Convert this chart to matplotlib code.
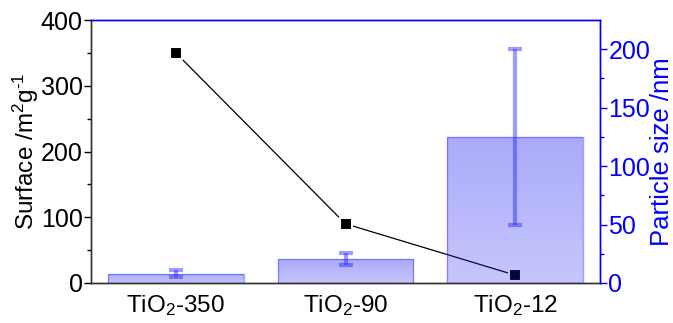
import matplotlib
matplotlib.use("Agg")
import matplotlib.pyplot as plt
import numpy as np

categories = ["TiO$_2$-350", "TiO$_2$-90", "TiO$_2$-12"]
surface = [350, 90, 12]
particle_size = [8, 20.5, 125]
particle_err = [3, 5, 75]

plt.rcParams['font.family'] = ['Liberation Sans', 'DejaVu Sans']
plt.rcParams['mathtext.fontset'] = 'custom'
plt.rcParams['mathtext.rm'] = 'Liberation Sans'
plt.rcParams['mathtext.it'] = 'Liberation Sans:italic'
plt.rcParams['mathtext.bf'] = 'Liberation Sans:bold'

fig = plt.figure(figsize=(6.73, 3.23), dpi=100)
ax1 = fig.add_axes([91/673, 40/323, 509/673, 263/323])
ax2 = ax1.twinx()

x = np.arange(len(categories))
ax1.plot(x, surface, color='black', lw=0.9, marker='s', markersize=8,
         markerfacecolor='black', markeredgecolor='white', markeredgewidth=1.5, zorder=3)
ax1.set_ylim(0, 400)
ax1.set_xlim(-0.5, 2.5)
ax1.set_yticks([0, 100, 200, 300, 400])
ax1.set_yticks([50, 150, 250, 350], minor=True)
ax1.set_xticks(x)
ax1.set_xticklabels(categories, fontsize=17.5)
ax1.tick_params(axis='x', length=0, pad=7)
ax1.tick_params(axis='y', which='major', labelsize=18, length=5, width=1, direction='out', pad=1)
ax1.tick_params(axis='y', which='minor', length=3, width=1, direction='out')
ax1.set_ylabel(r"Surface /m$^2$g$^{\text{-}1}$", fontsize=17.5, labelpad=0)

# gradient-filled bars
bars = ax2.bar(x, particle_size, width=0.8, color='none',
               edgecolor=(0.2, 0.2, 1.0, 0.45), linewidth=1.0, zorder=2.5)
grad = np.zeros((64, 1, 4))
grad[..., 0] = 0.1
grad[..., 1] = 0.1
grad[..., 2] = 0.95
grad[:, 0, 3] = np.linspace(0.37, 0.25, 64)
for b in bars:
    im = ax2.imshow(grad, extent=[b.get_x(), b.get_x() + b.get_width(), 0, b.get_height()],
                    origin='upper', aspect='auto', zorder=2, interpolation='bilinear')
    im.set_clip_path(b)
ax2.errorbar(x, particle_size, yerr=particle_err, fmt='none',
             ecolor=(0.15, 0.15, 1.0, 0.45), elinewidth=3, capsize=4.7, capthick=3, zorder=3)
ax2.set_xlim(-0.5, 2.5)
ax2.set_ylim(0, 225)
ax2.set_yticks([0, 50, 100, 150, 200])
ax2.set_yticks([25, 75, 125, 175], minor=True)
ax2.tick_params(axis='y', which='major', labelsize=18, length=5, width=1, direction='out',
                colors='#0000ff', pad=1)
ax2.tick_params(axis='y', which='minor', length=3, width=1, direction='out', colors='#0000ff')
ax2.set_ylabel("Particle size /nm", fontsize=18.5, color='#0000ff', labelpad=0)

for ax in (ax1, ax2):
    ax.spines['left'].set_color('#333333')
    ax.spines['bottom'].set_color('#333333')
    ax.spines['right'].set_color('#0000ff')
    ax.spines['top'].set_color('#0000ff')
    for s in ax.spines.values():
        s.set_linewidth(1.0)

fig.savefig("out.png", dpi=100)
